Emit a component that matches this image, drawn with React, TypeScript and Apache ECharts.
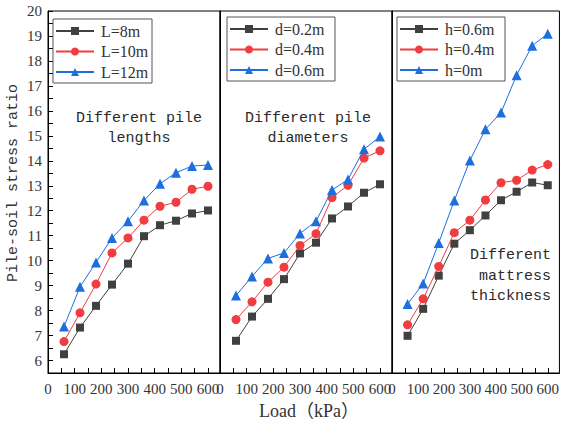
import React, { useEffect, useRef } from "react";
import * as echarts from "echarts";

// Loads (kPa) at which the ratio was measured
const loads = [60, 120, 180, 240, 300, 360, 420, 480, 540, 600];

// Panel 1: different pile lengths
const lengthNames = ["L=8m", "L=10m", "L=12m"];
const L8 = [6.25, 7.32, 8.19, 9.04, 9.88, 10.98, 11.42, 11.6, 11.89, 12.01];
const L10 = [6.76, 7.91, 9.06, 10.31, 10.91, 11.62, 12.18, 12.34, 12.86, 12.98];
const L12 = [7.36, 8.95, 9.93, 10.91, 11.58, 12.41, 13.08, 13.52, 13.79, 13.83];

// Panel 2: different pile diameters
const diameterNames = ["d=0.2m", "d=0.4m", "d=0.6m"];
const d02 = [6.79, 7.76, 8.47, 9.26, 10.29, 10.72, 11.69, 12.17, 12.72, 13.06];
const d04 = [7.64, 8.35, 9.14, 9.74, 10.61, 11.08, 12.53, 13.02, 14.11, 14.4];
const d06 = [8.6, 9.37, 10.09, 10.31, 11.09, 11.58, 12.83, 13.25, 14.46, 14.97];

// Panel 3: different mattress thickness
const thicknessNames = ["h=0.6m", "h=0.4m", "h=0m"];
const h06 = [6.99, 8.07, 9.4, 10.68, 11.22, 11.81, 12.42, 12.76, 13.13, 13.02];
const h04 = [7.43, 8.47, 9.77, 11.12, 11.62, 12.43, 13.12, 13.22, 13.63, 13.85];
const h0 = [8.26, 9.08, 10.71, 12.41, 14.01, 15.26, 15.93, 17.43, 18.61, 19.09];

const panelNotes = ["Different pile\nlengths", "Different pile\ndiameters", "Different\nmattress\nthickness"];
const xTitle = "Load（kPa）";
const yTitle = "Pile-soil stress ratio";

const COLORS = ["#404040", "#ef3d42", "#1d6fe0"];
const SYMBOLS = ["rect", "circle", "triangle"];
const SIZES = [8, 9, 10];
const SERIF = "'Liberation Serif', 'Times New Roman', serif";
const MONO = "'Liberation Mono', 'Courier New', monospace";

export default function App() {
  const ref = useRef<HTMLDivElement>(null);
  useEffect(() => {
    if (!ref.current) return;
    const chart = echarts.init(ref.current, null, { renderer: "svg" });
    const lefts = [48, 220, 392];
    const groups = [
      { names: lengthNames, vals: [L8, L10, L12] },
      { names: diameterNames, vals: [d02, d04, d06] },
      { names: thicknessNames, vals: [h06, h04, h0] },
    ];
    const grids = lefts.map((l) => ({
      left: l,
      top: 11,
      width: 172,
      height: 362,
      show: true,
      borderColor: "#000",
      borderWidth: 1,
      backgroundColor: "transparent",
    }));
    const xAxes = lefts.map((_, i) => ({
      gridIndex: i,
      type: "value",
      min: 0,
      max: 645,
      interval: 50,
      axisLine: { show: true, lineStyle: { color: "#000", width: 1 } },
      axisTick: { show: true, inside: true, length: 5, lineStyle: { color: "#000" } },
      axisLabel: {
        formatter: (v: number) => (v % 100 === 0 ? String(v) : ""),
        fontFamily: SERIF,
        fontSize: 15,
        color: "#333",
        margin: 8,
        showMaxLabel: false,
      },
      splitLine: { show: false },
    }));
    const yAxes = lefts.map((_, i) => ({
      gridIndex: i,
      type: "value",
      min: 5.5,
      max: 20,
      interval: 0.5,
      axisLine: { show: true, lineStyle: { color: "#000", width: 1 } },
      axisTick: { show: i === 0, inside: true, length: 5, lineStyle: { color: "#000" } },
      axisLabel: {
        show: i === 0,
        formatter: (v: number) => (Number.isInteger(v) ? String(v) : ""),
        fontFamily: SERIF,
        fontSize: 15,
        color: "#333",
        margin: 6,
      },
      splitLine: { show: false },
    }));
    const series: any[] = [];
    groups.forEach((g, gi) => {
      g.names.forEach((name, si) => {
        series.push({
          name,
          type: "line",
          xAxisIndex: gi,
          yAxisIndex: gi,
          data: loads.map((x, k) => [x, g.vals[si][k]]),
          symbol: SYMBOLS[si],
          symbolSize: SIZES[si],
          lineStyle: { color: COLORS[si], width: 1 },
          itemStyle: { color: COLORS[si] },
          z: 3 + si,
        });
      });
    });
    const legendPos = [
      { left: 53, top: 19, w: 48 },
      { left: 227, top: 17, w: 57 },
      { left: 397, top: 17, w: 57 },
    ];
    const legends = groups.map((g, gi) => ({
      data: g.names,
      orient: "vertical",
      left: legendPos[gi].left,
      top: legendPos[gi].top,
      itemWidth: 38,
      itemHeight: 10,
      itemGap: 4.5,
      padding: [4, 3, 3, 2],
      borderColor: "#555",
      borderWidth: 1,
      backgroundColor: "#fff",
      textStyle: {
        fontFamily: SERIF,
        fontSize: 16,
        color: "#333",
        lineHeight: 16,
        width: legendPos[gi].w,
        padding: [0, 0, 0, 2],
      },
    }));
    chart.setOption({
      animation: false,
      backgroundColor: "#fff",
      grid: grids,
      xAxis: xAxes,
      yAxis: yAxes,
      legend: legends,
      series,
      graphic: [
        {
          type: "text",
          x: 139,
          y: 128,
          style: { text: panelNotes[0], font: `15px ${MONO}`, fill: "#2a2a2a", align: "center", verticalAlign: "middle", lineHeight: 20 },
        },
        {
          type: "text",
          x: 308,
          y: 128,
          style: { text: panelNotes[1], font: `15px ${MONO}`, fill: "#2a2a2a", align: "center", verticalAlign: "middle", lineHeight: 20 },
        },
        {
          type: "text",
          x: 551,
          y: 276,
          style: { text: panelNotes[2], font: `15px ${MONO}`, fill: "#2a2a2a", align: "right", verticalAlign: "middle", lineHeight: 20.5 },
        },
        {
          type: "text",
          x: 309,
          y: 411,
          style: { text: xTitle, font: `18px 'Liberation Serif', 'Noto Sans CJK SC', serif`, fill: "#333", align: "center", verticalAlign: "middle" },
        },
        {
          type: "text",
          x: 13,
          y: 183,
          rotation: Math.PI / 2,
          style: { text: yTitle, font: `15px ${MONO}`, fill: "#333", align: "center", verticalAlign: "middle" },
        },
      ],
    });
    return () => chart.dispose();
  }, []);
  return (
    <div
      ref={ref}
      style={{ position: "fixed", left: 0, top: 0, width: 562, height: 422, background: "#fff" }}
    />
  );
}
